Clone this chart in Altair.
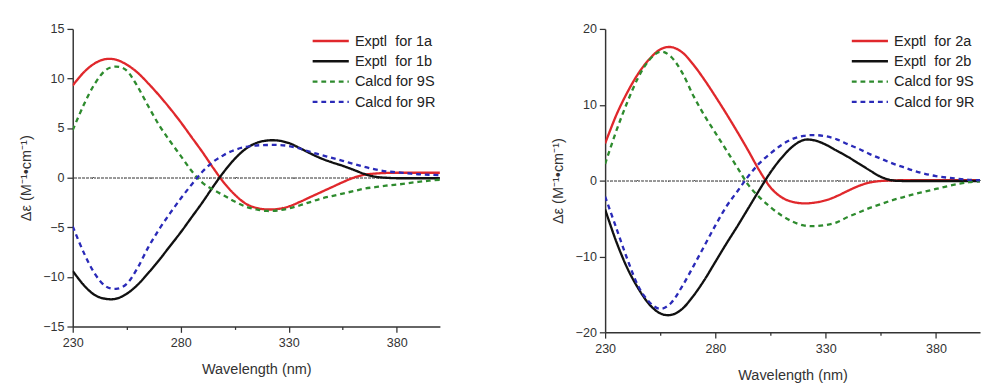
import altair as alt
import pandas as pd

# ---------------- data ----------------
wavelength = list(range(230, 401, 5))

left_names = ["Exptl\u00a0\u00a0for 1a", "Exptl\u00a0\u00a0for 1b", "Calcd for 9S", "Calcd for 9R"]
left_exptl_1a = [9.3, 10.6, 11.5, 11.95, 11.9, 11.4, 10.6, 9.5, 8.3, 7.0, 5.6, 4.1, 2.6, 1.0, -0.5,
                 -1.7, -2.6, -3.05, -3.2, -3.15, -2.9, -2.45, -1.95, -1.45, -0.95, -0.45, 0.0, 0.3,
                 0.42, 0.48, 0.5, 0.5, 0.5, 0.5, 0.5]
left_exptl_1b = [-9.4, -10.8, -11.8, -12.2, -12.2, -11.7, -10.8, -9.6, -8.3, -6.9, -5.5, -4.0, -2.5,
                 -0.9, 0.6, 1.9, 2.9, 3.5, 3.75, 3.75, 3.5, 3.0, 2.45, 1.95, 1.55, 1.2, 0.8, 0.38,
                 0.1, 0.0, -0.05, -0.05, -0.05, -0.05, -0.05]
left_calcd_9S = [4.8, 7.3, 9.4, 10.8, 11.2, 10.8, 9.2, 7.2, 5.3, 3.7, 2.2, 0.7, -0.5, -1.2, -1.8,
                 -2.4, -2.9, -3.2, -3.35, -3.3, -3.1, -2.8, -2.45, -2.1, -1.85, -1.6, -1.35, -1.1,
                 -0.95, -0.8, -0.7, -0.55, -0.42, -0.3, -0.2]
left_calcd_9R = [-4.9, -7.5, -9.6, -10.9, -11.2, -10.7, -9.1, -7.0, -5.2, -3.6, -2.1, -0.7, 0.6,
                 1.6, 2.3, 2.8, 3.1, 3.25, 3.3, 3.3, 3.2, 2.95, 2.6, 2.3, 2.0, 1.7, 1.4, 1.1,
                 0.85, 0.65, 0.55, 0.45, 0.35, 0.3, 0.25]

right_names = ["Exptl\u00a0\u00a0for 2a", "Exptl\u00a0\u00a0for 2b", "Calcd for 9S", "Calcd for 9R"]
right_exptl_2a = [4.9, 8.6, 11.6, 14.1, 16.0, 17.3, 17.6, 16.9, 15.3, 13.3, 11.1, 8.8, 6.4, 3.9,
                  1.3, -0.9, -2.2, -2.8, -3.0, -2.9, -2.6, -2.05, -1.35, -0.7, -0.25, -0.05, 0.03,
                  0.05, 0.05, 0.05, 0.05, 0.05, 0.05, 0.05, 0.05]
right_exptl_2b = [-3.8, -8.0, -11.5, -14.2, -16.3, -17.5, -17.7, -16.9, -15.2, -13.1, -10.7, -8.3,
                  -6.0, -3.6, -1.2, 1.1, 3.0, 4.5, 5.35, 5.3, 4.75, 3.95, 3.15, 2.25, 1.35, 0.5,
                  0.05, -0.05, -0.05, -0.05, -0.05, -0.05, -0.05, -0.05, -0.05]
right_calcd_9S = [2.2, 6.5, 10.3, 13.6, 15.9, 17.0, 16.3, 14.2, 11.2, 8.6, 6.3, 4.0, 1.7, -0.6,
                  -2.2, -3.5, -4.6, -5.4, -5.9, -6.0, -5.85, -5.5, -4.8, -4.2, -3.6, -3.1, -2.6,
                  -2.2, -1.8, -1.45, -1.1, -0.75, -0.45, -0.2, -0.1]
right_calcd_9R = [-2.1, -6.2, -10.3, -13.9, -16.0, -16.9, -16.1, -13.9, -11.3, -8.6, -5.9, -3.4,
                  -1.4, 0.6, 2.3, 3.6, 4.7, 5.5, 5.9, 6.0, 5.85, 5.45, 4.8, 4.2, 3.5, 2.9, 2.3,
                  1.8, 1.3, 0.9, 0.6, 0.4, 0.25, 0.1, 0.05]

line_colors = ["#e0282c", "#111111", "#2e8b2e", "#2a2ab8"]
line_dashes = [[1, 0], [1, 0], [5, 4], [5, 4]]

left_x_ticks = [230, 255, 280, 305, 330, 355, 380]
left_y_ticks = [-15, -12.5, -10, -7.5, -5, -2.5, 0, 2.5, 5, 7.5, 10, 12.5, 15]
right_x_ticks = [230, 255, 280, 305, 330, 355, 380]
right_y_ticks = [-20, -15, -10, -5, 0, 5, 10, 15, 20]

FONT = "Liberation Sans"
Y_TITLE = "\u0394\u03b5 (M\u207b\u00b9\u2022cm\u207b\u00b9)"


def long_table(names, series):
    rows = []
    for name, vals in zip(names, series):
        for w, v in zip(wavelength, vals):
            rows.append({"wl": w, "val": v, "series": name})
    return pd.DataFrame(rows)


def panel(df, names, xdom, ydom, xticks, yticks, ymajor, w, h, legx, legy):
    xaxis = alt.Axis(
        values=xticks, title="Wavelength (nm)", grid=False, labelFlush=False,
        labelExpr="(datum.value - 230) % 50 === 0 ? datum.label : ''",
        tickSize={"condition": {"test": "(datum.value - 230) % 50 === 0", "value": 6}, "value": 3},
        labelPadding=4.5, titlePadding=13,
    )
    yaxis = alt.Axis(
        values=yticks, title=Y_TITLE, grid=False, labelFlush=False,
        labelExpr=f"datum.value % {ymajor} === 0 ? datum.label : ''",
        tickSize={"condition": {"test": f"datum.value % {ymajor} === 0", "value": 6}, "value": 3},
        labelPadding=3, titlePadding=10,
    )
    leg = alt.Legend(
        title=None, orient="none", legendX=legx, legendY=legy,
        symbolType="stroke", symbolSize=1400, symbolStrokeWidth=2.5,
        labelFontSize=15, labelFont=FONT, labelColor="#222222",
        clipHeight=15, rowPadding=5, labelOffset=5, padding=0,
    )
    base = alt.Chart(df)
    zero = base.mark_rule(color="#9a9a9a", strokeWidth=0.8, strokeDash=[2, 2]).encode(
        y=alt.datum(0)
    )
    lines = base.mark_line(interpolate="cardinal", strokeWidth=2.4, clip=True).encode(
        x=alt.X("wl:Q", scale=alt.Scale(domain=xdom, nice=False, zero=False), axis=xaxis),
        y=alt.Y("val:Q", scale=alt.Scale(domain=ydom, nice=False, zero=False), axis=yaxis),
        color=alt.Color("series:N", scale=alt.Scale(domain=names, range=line_colors), legend=leg),
        strokeDash=alt.StrokeDash("series:N", scale=alt.Scale(domain=names, range=line_dashes), legend=leg),
    )
    return alt.layer(zero, lines).properties(width=w, height=h)


left_df = long_table(left_names, [left_exptl_1a, left_exptl_1b, left_calcd_9S, left_calcd_9R])
right_df = long_table(right_names, [right_exptl_2a, right_exptl_2b, right_calcd_9S, right_calcd_9R])

left = panel(left_df, left_names, [230, 400], [-15, 15], left_x_ticks, left_y_ticks, 5,
             380, 308, 247, 5)
right = panel(right_df, right_names, [230, 400], [-20, 20], right_x_ticks, right_y_ticks, 10,
              388, 314, 254, 5)

chart = alt.hconcat(left, right, spacing=113).resolve_scale(
    x="independent", y="independent", color="independent", strokeDash="independent"
).resolve_legend(color="independent", strokeDash="independent").properties(
    padding={"left": 10, "top": 9, "right": 0, "bottom": 0}
).configure_view(stroke=None).configure_axis(
    domainColor="#333333", domainWidth=1.5, tickColor="#333333", tickWidth=1.3,
    labelColor="#333333", labelFont=FONT, labelFontSize=13,
    titleColor="#333333", titleFont=FONT, titleFontSize=15, titleFontWeight="normal",
)

chart.save("out.html", embed_options={"renderer": "svg", "actions": False})
